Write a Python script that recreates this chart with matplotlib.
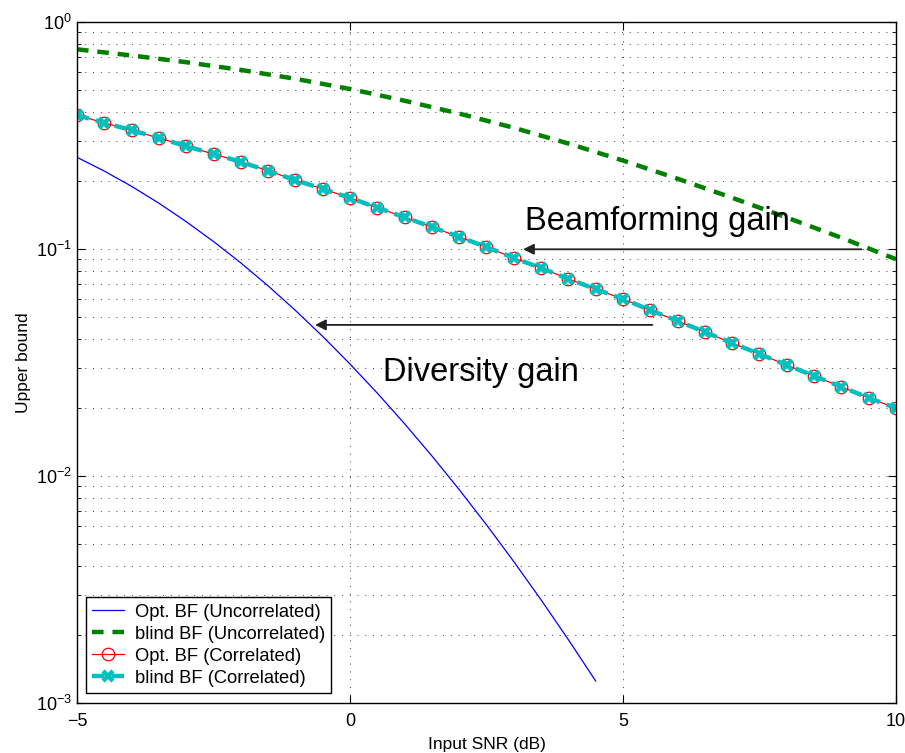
import matplotlib
matplotlib.use("Agg")
import matplotlib.pyplot as plt
from matplotlib.ticker import LogLocator, NullFormatter

plt.rcParams["font.family"] = ["Liberation Sans", "DejaVu Sans"]
plt.rcParams["mathtext.fontset"] = "custom"
plt.rcParams["mathtext.rm"] = "Liberation Sans"
plt.rcParams["mathtext.it"] = "Liberation Sans:italic"
plt.rcParams["mathtext.bf"] = "Liberation Sans:bold"

# SNR grid (dB) used by the correlated-channel curves
snr_corr = [-5.0, -4.5, -4.0, -3.5, -3.0, -2.5, -2.0, -1.5, -1.0, -0.5,
            0.0, 0.5, 1.0, 1.5, 2.0, 2.5, 3.0, 3.5, 4.0, 4.5,
            5.0, 5.5, 6.0, 6.5, 7.0, 7.5, 8.0, 8.5, 9.0, 9.5, 10.0]
opt_corr = [0.389, 0.359, 0.334, 0.308, 0.284, 0.262, 0.242, 0.221, 0.201, 0.184,
            0.168, 0.152, 0.138, 0.125, 0.113, 0.102, 0.0913, 0.0825, 0.0738, 0.0666,
            0.0602, 0.0538, 0.0482, 0.0431, 0.0385, 0.0345, 0.0308, 0.0276, 0.0247,
            0.0221, 0.0199]
blind_corr = [0.389, 0.359, 0.334, 0.308, 0.284, 0.262, 0.242, 0.221, 0.201, 0.184,
              0.168, 0.152, 0.138, 0.125, 0.113, 0.102, 0.0913, 0.0825, 0.0738, 0.0666,
              0.0602, 0.0538, 0.0482, 0.0431, 0.0385, 0.0345, 0.0308, 0.0276, 0.0247,
              0.0221, 0.0199]

# optimal beamformer, uncorrelated channel
snr_opt_unc = [-5.0, -4.5, -4.0, -3.5, -3.0, -2.5, -2.0, -1.5, -1.0, -0.5,
               0.0, 0.5, 1.0, 1.5, 2.0, 2.5, 3.0, 3.5, 4.0, 4.5]
opt_unc = [0.2535, 0.2204, 0.1888, 0.1591, 0.1320, 0.1079, 0.08685, 0.06880, 0.05364,
           0.04120, 0.03114, 0.02318, 0.01699, 0.01226, 0.008713, 0.006095, 0.004198,
           0.002847, 0.001901, 0.001250]

# blind beamformer, uncorrelated channel
snr_blind_unc = [-5, -4, -3, -2, -1, 0, 1, 2, 3, 4, 5, 6, 7, 8, 9, 10]
blind_unc = [0.758, 0.712, 0.665, 0.615, 0.562, 0.507, 0.450, 0.395, 0.342, 0.2915,
             0.2453, 0.2040, 0.1681, 0.1376, 0.1121, 0.0902]

labels = ["Opt. BF (Uncorrelated)", "blind BF (Uncorrelated)",
          "Opt. BF (Correlated)", "blind BF (Correlated)"]

fig = plt.figure(figsize=(9.05, 7.53), dpi=100)
ax = fig.add_axes([0.0851, 0.0664, 0.9049, 0.9044])

ax.plot(snr_opt_unc, opt_unc, color="#0000ff", linewidth=0.9, label=labels[0])
ax.plot(snr_blind_unc, blind_unc, color="#008000", linewidth=3.2,
        dashes=(2.6, 2.0), label=labels[1])
ax.plot(snr_corr, opt_corr, color="#ff0000", linewidth=0.9, marker="o",
        markersize=9, markerfacecolor="none", markeredgecolor="#ff0000",
        markeredgewidth=0.9, label=labels[2])
ax.plot(snr_corr, blind_corr, color="#00bfbf", linewidth=3.2, dashes=(2.8, 1.6),
        marker="x", markersize=7, markeredgewidth=3.2, label=labels[3])

ax.set_yscale("log")
ax.set_xlim(-5, 10)
ax.set_ylim(1e-3, 1)
ax.set_xticks([-5, 0, 5, 10])
ax.yaxis.set_major_locator(LogLocator(base=10, numticks=10))
ax.yaxis.set_minor_locator(LogLocator(base=10, subs=range(2, 10), numticks=20))
ax.yaxis.set_minor_formatter(NullFormatter())

ax.tick_params(which="both", direction="in", top=True, right=True, labelsize=13)
ax.tick_params(which="major", length=6, width=0.8)
ax.tick_params(which="minor", length=3, width=0.6)
ax.tick_params(axis="x", pad=7)

grid_kw = dict(color="0.25", linestyle=(0, (1, 7)), linewidth=0.7)
ax.grid(True, which="major", axis="both", **grid_kw)
ax.grid(True, which="minor", axis="y", **grid_kw)
for sp in ax.spines.values():
    sp.set_linewidth(1.0)

ax.set_xlabel("Input SNR (dB)", fontsize=12.5, labelpad=5)
ax.set_ylabel("Upper bound", fontsize=12.5, labelpad=4)

# gain arrows and their captions
arrow_kw = dict(arrowstyle="-|>", color="#222222", lw=1.3,
                mutation_scale=16, shrinkA=0, shrinkB=0)
ax.annotate("", xy=(3.17, 0.0997), xytext=(9.37, 0.0997), arrowprops=arrow_kw)
ax.annotate("", xy=(-0.64, 0.0463), xytext=(5.54, 0.0463), arrowprops=arrow_kw)
ax.text(3.2, 0.1213, "Beamforming gain", fontsize=23.5, va="baseline", ha="left")
ax.text(0.61, 0.0262, "Diversity gain", fontsize=23.5, va="baseline", ha="left")

leg = ax.legend(loc="lower left", bbox_to_anchor=(0.011, 0.0147), borderaxespad=0,
                fontsize=13.2, handlelength=1.7, handletextpad=0.6,
                labelspacing=0.27, borderpad=0.35, fancybox=False, framealpha=1)
leg.get_frame().set_edgecolor("black")
leg.get_frame().set_linewidth(1.0)

fig.savefig("out.png", dpi=100)
